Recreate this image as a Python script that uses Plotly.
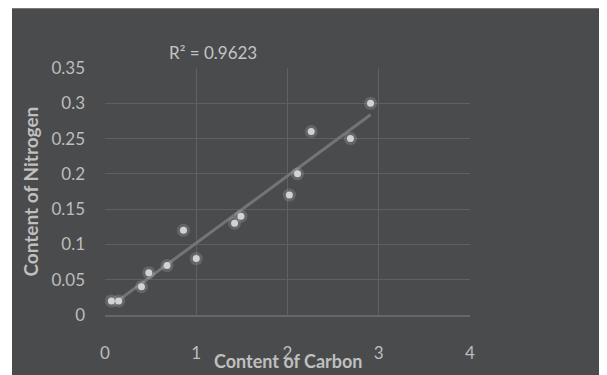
import numpy as np
import plotly.graph_objects as go

carbon = [0.07, 0.15, 0.40, 0.48, 0.68, 0.86, 1.00, 1.42, 1.49, 2.02, 2.11, 2.26, 2.69, 2.91]
nitrogen = [0.02, 0.02, 0.04, 0.06, 0.07, 0.12, 0.08, 0.13, 0.14, 0.17, 0.20, 0.26, 0.25, 0.30]
x_ticks = [0, 1, 2, 3, 4]
y_ticks = [0, 0.05, 0.1, 0.15, 0.2, 0.25, 0.3, 0.35]
y_tick_text = ["0", "0.05", "0.1", "0.15", "0.2", "0.25", "0.3", "0.35"]
r2_label = "R² = 0.9623"

# page has an 8px body margin; figure coordinates = page coordinates - 8
OFF = 8
W, H = 599, 367
ML, MR, MT, MB = 97, 137, 60, 55
PW, PH = W - ML - MR, H - MT - MB

BG = "#4a4b4d"
FONT = "Lato, Open Sans, sans-serif"

slope, intercept = np.polyfit(carbon, nitrogen, 1)
tx = np.array([min(carbon) + 0.08, max(carbon)])
ty = slope * tx + intercept

fig = go.Figure()
fig.add_trace(go.Scatter(x=tx, y=ty, mode="lines",
                         line=dict(color="#737475", width=3), hoverinfo="skip"))
fig.add_trace(go.Scatter(x=carbon, y=nitrogen, mode="markers",
                         marker=dict(size=13, color="rgba(220,220,220,0.18)"), hoverinfo="skip"))
fig.add_trace(go.Scatter(x=carbon, y=nitrogen, mode="markers",
                         marker=dict(size=7, color="#d2d2d2")))


def px2paper_x(px):
    return (px - OFF - ML) / PW


def px2paper_y(py):
    return (H - MB - (py - OFF)) / PH


fig.update_layout(
    width=W, height=H,
    margin=dict(l=ML, r=MR, t=MT, b=MB),
    paper_bgcolor="white",
    plot_bgcolor=BG,
    showlegend=False,
    font=dict(family=FONT, color="#c4c4c4", size=17),
    shapes=[dict(type="rect", xref="paper", yref="paper", layer="below",
                 x0=px2paper_x(12), x1=px2paper_x(W + 20),
                 y0=px2paper_y(H + 20), y1=px2paper_y(7),
                 fillcolor=BG, line=dict(width=0))],
    xaxis=dict(range=[0, 4], tickvals=x_ticks, showgrid=True, gridcolor="#5f6062",
               gridwidth=1, zeroline=False, showline=True, linecolor="#666769", linewidth=2,
               ticks="", ticklabelstandoff=22, tickfont=dict(size=17, color="#bdbdbd")),
    yaxis=dict(range=[0, 0.35], tickvals=y_ticks, ticktext=y_tick_text, showgrid=True,
               gridcolor="#5f6062", gridwidth=1, zeroline=False, showline=False,
               ticks="", ticklabelstandoff=19, tickfont=dict(size=17, color="#bdbdbd")),
    annotations=[
        dict(text=r2_label, xref="paper", yref="paper", x=px2paper_x(213), y=px2paper_y(52),
             showarrow=False, font=dict(size=17, color="#c4c4c4"), xanchor="center", yanchor="middle"),
        dict(text="<b>Content of Carbon</b>", xref="paper", yref="paper", x=px2paper_x(288),
             y=px2paper_y(367), showarrow=False, font=dict(size=18, color="#bfbfbf"),
             xanchor="center", yanchor="middle"),
        dict(text="<b>Content of Nitrogen</b>", xref="paper", yref="paper", x=px2paper_x(30),
             y=px2paper_y(194), showarrow=False, textangle=-90,
             font=dict(size=19, color="#bfbfbf"), xanchor="center", yanchor="middle"),
    ],
)

fig.write_html("out.html")
